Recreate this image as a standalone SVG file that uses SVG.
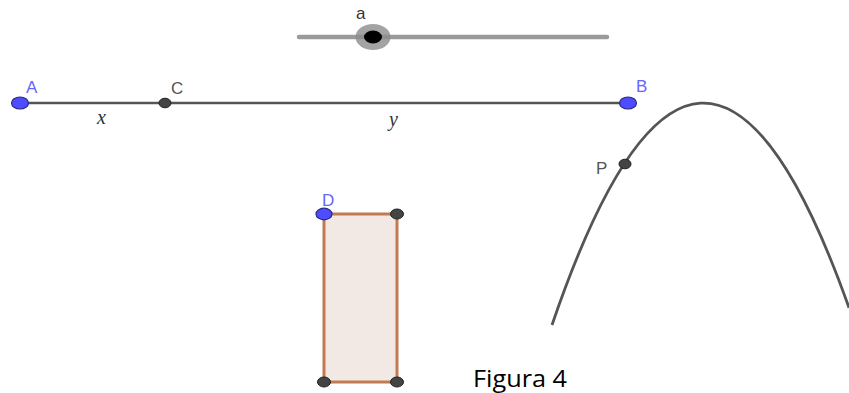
<svg xmlns="http://www.w3.org/2000/svg" width="849" height="393" viewBox="0 0 849 393">
<style>
.lbl{font-family:"Liberation Sans",Arial,sans-serif;font-size:17px}
.blue{fill:#6565ff}
.gray{fill:#555555}
.math{font-family:"Liberation Serif","Times New Roman",serif;font-style:italic;font-size:20px;fill:#333}
.ptb{fill:#4d4dff;stroke:#2a2a8a;stroke-width:1.2}
.ptg{fill:#444444;stroke:#222;stroke-width:1}
</style>
<rect width="849" height="393" fill="#ffffff"/>
<g id="slider">
<line x1="299" y1="37" x2="607" y2="37" stroke="#9a9a9a" stroke-width="4.5" stroke-linecap="round"/>
<ellipse cx="373" cy="37" rx="17.5" ry="13" fill="#8c8c8c" opacity="0.8"/>
<ellipse cx="373" cy="37" rx="9" ry="6.5" fill="#000"/>
<text x="356" y="19" class="lbl" fill="#333">a</text>
</g>
<g id="connectors">
<line x1="20" y1="103" x2="628" y2="103" stroke="#555" stroke-width="2.6"/>
<path d="M552 325 Q700.5 -110.1 849 307.7" fill="none" stroke="#555" stroke-width="2.8"/>
</g>
<text x="97" y="124" class="math">x</text>
<text x="389" y="126" class="math">y</text>
<g id="A"><ellipse cx="20" cy="103" rx="8.5" ry="6" class="ptb"/><text x="26" y="93" class="lbl blue">A</text></g>
<g id="C"><ellipse cx="165" cy="103" rx="6" ry="4.8" class="ptg"/><text x="171" y="94" class="lbl gray">C</text></g>
<g id="B"><ellipse cx="628" cy="103" rx="8.5" ry="6" class="ptb"/><text x="636" y="92" class="lbl blue">B</text></g>
<g id="P"><ellipse cx="625" cy="164" rx="6" ry="4.8" class="ptg"/><text x="596" y="174" class="lbl gray">P</text></g>
<g id="rect">
<rect x="324" y="214" width="73" height="168" fill="#f3e9e4" stroke="#c27a52" stroke-width="3"/>
<ellipse cx="397" cy="214" rx="6.5" ry="5" class="ptg"/>
<ellipse cx="324" cy="382" rx="6.5" ry="5" class="ptg"/>
<ellipse cx="397" cy="382" rx="6.5" ry="5" class="ptg"/>
</g>
<g id="D"><ellipse cx="324" cy="214" rx="8" ry="5.8" class="ptb"/><text x="322" y="206" class="lbl blue">D</text></g>
<text x="473" y="387" font-family="'Open Sans','Liberation Sans',sans-serif" font-size="24" fill="#000" textLength="94" lengthAdjust="spacingAndGlyphs">Figura 4</text>
</svg>
